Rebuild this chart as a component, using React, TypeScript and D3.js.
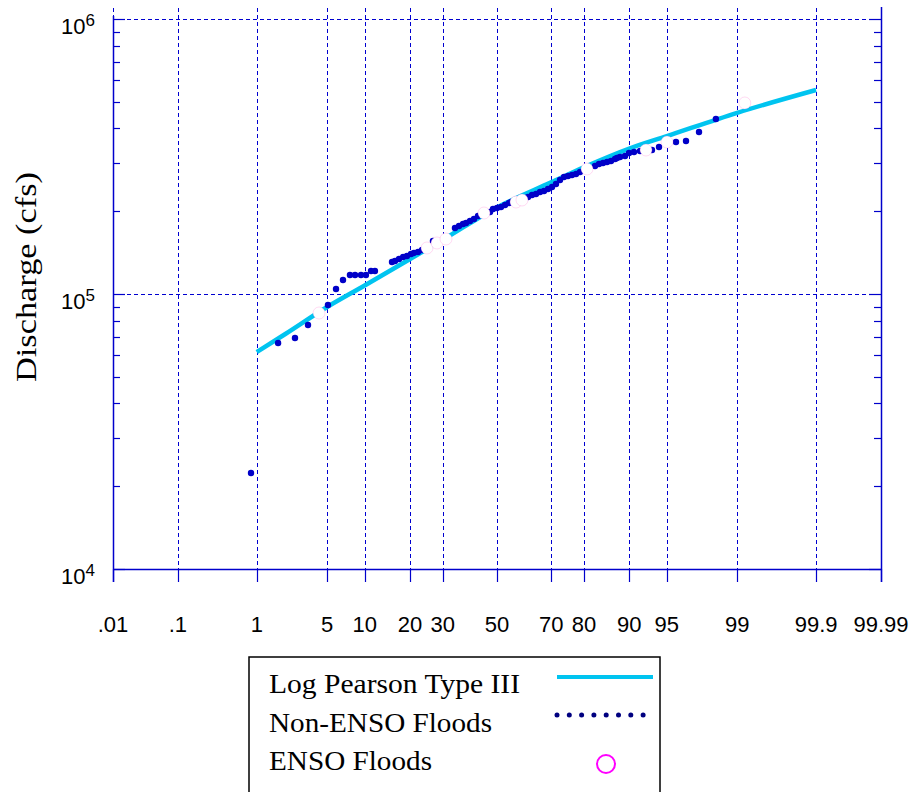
import React from "react";
import * as d3 from "d3";

// probability axis (percent) and discharge decades
const probTicks = [0.01, 0.1, 1, 5, 10, 20, 30, 50, 70, 80, 90, 95, 99, 99.9, 99.99];
const probTickLabels = [".01", ".1", "1", "5", "10", "20", "30", "50", "70", "80", "90", "95", "99", "99.9", "99.99"];
const decadeTicks = [1e4, 1e5, 1e6];
const decadeExp = ["4", "5", "6"];

// fitted Log Pearson Type III curve
const lp3Pct = [1, 2, 5, 10, 20, 30, 50, 70, 80, 90, 95, 99, 99.9];
const lp3Q = [61500, 71400, 89700, 107400, 134000, 157400, 206500, 254700, 289000, 338000, 375000, 456000, 552000];

// observed floods, non-ENSO years
const nonEnsoPct = [
  0.86, 1.7, 2.52, 3.36, 5.08, 5.95, 6.79, 7.72, 8.46, 9.39, 10.22, 11.12, 11.86,
  15.46, 16.16, 17.13, 18.14, 19.16, 20.25, 21.07, 22.21, 23.39, 26.76,
  34.2, 35.64, 37.1, 38.21, 39.69, 41.18, 42.7,
  47.3, 48.46, 50.0, 51.54, 53.09, 54.63, 55.39,
  61.8, 63.27, 64.72, 66.15, 67.55, 68.93, 70.29, 71.61, 72.91, 74.18, 75.42, 76.62, 77.79, 78.93,
  82.87, 83.84, 84.77, 85.67, 86.52, 87.35, 87.74, 88.32, 89.25, 89.95, 90.77, 91.7,
  93.33, 94.17, 95.85, 96.64, 97.48, 98.3,
];
const nonEnsoQ = [
  22340, 66330, 69180, 77160, 91200, 104300, 112400, 117300, 117300, 117300, 117300, 121200, 121200,
  130800, 131800, 134100, 136300, 137500, 139800, 141000, 142200, 144500, 155800,
  173800, 176700, 179700, 181200, 184300, 187400, 192100,
  198700, 203800, 205500, 207200, 210700, 214200, 216000,
  225300, 229100, 231000, 234900, 236900, 240900, 245000, 251200, 259700, 266400, 268600, 270900, 273200, 277700,
  292100, 297000, 299500, 302000, 304500, 309700, 312300, 314900, 317600, 325700, 328400, 331100,
  333900, 342400, 357000, 360000, 388200, 433000,
];

// observed floods, ENSO years
const ensoPct = [4.24, 24.89, 28.06, 31.07, 44.99, 57.3, 59.56, 80.83, 92.55, 95.02, 99.18];
const ensoQ = [85290, 147000, 153300, 158500, 197000, 216000, 219700, 284900, 333900, 357000, 494900];

const legendItems = ["Log Pearson Type III", "Non-ENSO Floods", "ENSO Floods"];

// inverse standard normal CDF (Acklam)
function normInv(p: number): number {
  const a = [-39.69683028665376, 220.9460984245205, -275.9285104469687, 138.357751867269, -30.66479806614716, 2.506628277459239];
  const b = [-54.47609879822406, 161.5858368580409, -155.6989798598866, 66.80131188771972, -13.28068155288572];
  const c = [-0.007784894002430293, -0.3223964580411365, -2.400758277161838, -2.549732539343734, 4.374664141464968, 2.938163982698783];
  const d = [0.007784695709041462, 0.3224671290700398, 2.445134137142996, 3.754408661907416];
  const pl = 0.02425;
  if (p < pl) {
    const q = Math.sqrt(-2 * Math.log(p));
    return (((((c[0] * q + c[1]) * q + c[2]) * q + c[3]) * q + c[4]) * q + c[5]) / ((((d[0] * q + d[1]) * q + d[2]) * q + d[3]) * q + 1);
  }
  if (p <= 1 - pl) {
    const q = p - 0.5;
    const r = q * q;
    return ((((((a[0] * r + a[1]) * r + a[2]) * r + a[3]) * r + a[4]) * r + a[5]) * q) / (((((b[0] * r + b[1]) * r + b[2]) * r + b[3]) * r + b[4]) * r + 1);
  }
  const q = Math.sqrt(-2 * Math.log(1 - p));
  return -(((((c[0] * q + c[1]) * q + c[2]) * q + c[3]) * q + c[4]) * q + c[5]) / ((((d[0] * q + d[1]) * q + d[2]) * q + d[3]) * q + 1);
}

const GRID = "#0000d0";
const AXIS = "#0000cc";
const crisp = (v: number) => Math.round(v) + 0.5;

export default function App() {
  const left = 113, right = 881, top = 19, bottom = 569;

  const xScale = d3.scaleLinear().domain([normInv(0.0001), normInv(0.9999)]).range([left, right]);
  const px = (pct: number) => xScale(normInv(pct / 100));
  const yScale = d3.scaleLog().domain([1e4, 1e6]).range([bottom, top]);

  const minorTicks = yScale.ticks().filter((v) => !decadeTicks.includes(v));

  const curve = d3
    .line<number>()
    .x((_, i) => px(lp3Pct[i]))
    .y((_, i) => yScale(lp3Q[i]))
    .curve(d3.curveMonotoneX)(lp3Q.map((q) => q));

  return (
    <div style={{ position: "absolute", left: 0, top: 0 }}>
      <svg width={913} height={792} style={{ display: "block", background: "#fff" }}>
        {/* gridlines */}
        {probTicks.map((p, i) => (
          <line key={"vg" + i} x1={crisp(px(p))} x2={crisp(px(p))} y1={8} y2={bottom}
            stroke={GRID} strokeWidth={1} strokeDasharray="4,3" />
        ))}
        {decadeTicks.map((v, i) => (
          <line key={"hg" + i} x1={left} x2={right} y1={crisp(yScale(v))} y2={crisp(yScale(v))}
            stroke={GRID} strokeWidth={1} strokeDasharray="4,3" />
        ))}

        {/* axes */}
        <line x1={crisp(left)} x2={crisp(left)} y1={16} y2={582} stroke={AXIS} strokeWidth={1.5} />
        <line x1={crisp(right)} x2={crisp(right)} y1={7} y2={582} stroke={AXIS} strokeWidth={1.5} />
        <line x1={left} x2={right} y1={crisp(bottom)} y2={crisp(bottom)} stroke={AXIS} strokeWidth={1.5} />
        {probTicks.map((p, i) => (
          <line key={"xt" + i} x1={crisp(px(p))} x2={crisp(px(p))} y1={bottom} y2={582} stroke={AXIS} strokeWidth={1.2} />
        ))}
        {minorTicks.map((v, i) => (
          <g key={"mt" + i}>
            <line x1={left} x2={left + 7} y1={crisp(yScale(v))} y2={crisp(yScale(v))} stroke={AXIS} strokeWidth={1.2} />
            <line x1={right - 7} x2={right} y1={crisp(yScale(v))} y2={crisp(yScale(v))} stroke={AXIS} strokeWidth={1.2} />
          </g>
        ))}
        {decadeTicks.map((v, i) => (
          <g key={"Mt" + i}>
            <line x1={left} x2={left + 12} y1={crisp(yScale(v))} y2={crisp(yScale(v))} stroke={AXIS} strokeWidth={1.2} />
            <line x1={right - 12} x2={right} y1={crisp(yScale(v))} y2={crisp(yScale(v))} stroke={AXIS} strokeWidth={1.2} />
          </g>
        ))}

        {/* tick labels */}
        {probTicks.map((p, i) => (
          <text key={"xl" + i} x={px(p)} y={632} textAnchor="middle"
            style={{ fontFamily: "'Liberation Sans', Arial, sans-serif", fontSize: 22 }}>
            {probTickLabels[i]}
          </text>
        ))}
        {decadeTicks.map((v, i) => (
          <text key={"yl" + i} x={95} y={yScale(v) + 14.5} textAnchor="end"
            style={{ fontFamily: "'Liberation Sans', Arial, sans-serif", fontSize: 22 }}>
            10
            <tspan dy={-8} style={{ fontSize: 17 }}>{decadeExp[i]}</tspan>
          </text>
        ))}

        {/* axis title */}
        <text transform="translate(36,277) rotate(-90)" textAnchor="middle"
          textLength={210} lengthAdjust="spacingAndGlyphs"
          style={{ fontFamily: "'Liberation Serif', 'Times New Roman', serif", fontSize: 30 }}>
          Discharge (cfs)
        </text>

        {/* fitted curve */}
        <path d={curve || ""} fill="none" stroke="#00c4f0" strokeWidth={4.5} />

        {/* observations */}
        {nonEnsoPct.map((p, i) => (
          <circle key={"n" + i} cx={px(p)} cy={yScale(nonEnsoQ[i])} r={3.2} fill="#0000c8" />
        ))}
        {ensoPct.map((p, i) => (
          <circle key={"e" + i} cx={px(p)} cy={yScale(ensoQ[i])} r={6} fill="#fff"
            stroke="#ff66cc" strokeWidth={0.4} strokeOpacity={0.6} />
        ))}

        {/* legend */}
        <rect x={249} y={657} width={411} height={160} fill="#fff" stroke="#000" strokeWidth={1.5} />
        {legendItems.map((t, i) => (
          <text key={"lg" + i} x={269} y={693 + i * 38.5}
            textLength={[251, 223, 163][i]} lengthAdjust="spacingAndGlyphs"
            style={{ fontFamily: "'Liberation Serif', 'Times New Roman', serif", fontSize: 28 }}>
            {t}
          </text>
        ))}
        <line x1={557} x2={653} y1={677} y2={677} stroke="#00c4f0" strokeWidth={4} />
        {d3.range(8).map((k) => (
          <circle key={"ld" + k} cx={557 + k * 12.3} cy={715} r={2.5} fill="#000080" />
        ))}
        <circle cx={606} cy={764} r={9} fill="none" stroke="#ff00ff" strokeWidth={2} />
      </svg>
    </div>
  );
}
